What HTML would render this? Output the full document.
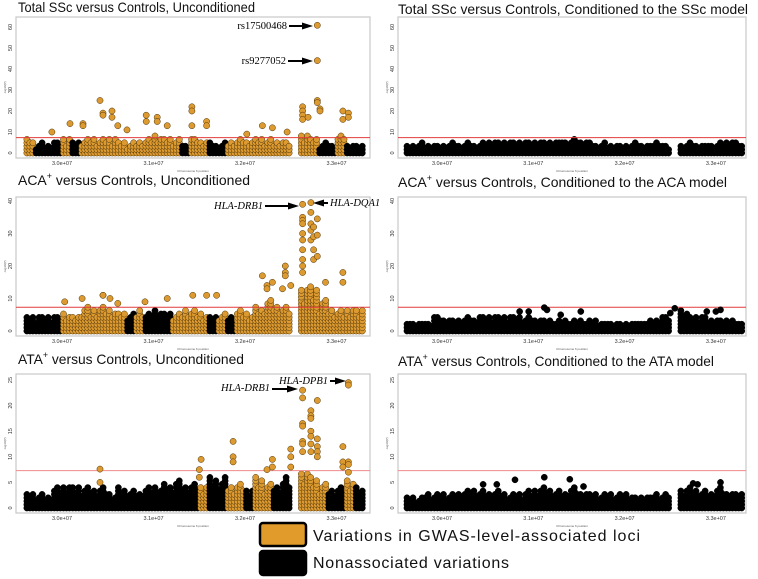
<!DOCTYPE html>
<html><head><meta charset="utf-8"><style>
html,body{margin:0;padding:0;background:#fff;}
svg{display:block;font-family:"Liberation Sans",Arial,sans-serif;}
</style></head><body>
<svg id="fig" width="758" height="579" viewBox="0 0 758 579" xmlns="http://www.w3.org/2000/svg">
<g id="layer"></g>
<g>
<rect x="260" y="523" width="46" height="23" rx="3" fill="#e09b2b" stroke="#000" stroke-width="2.5"/>
<rect x="260" y="551" width="46" height="24" rx="3" fill="#000" stroke="#000" stroke-width="2.5"/>
<text x="313" y="541" font-size="16" textLength="327" fill="#111">Variations in GWAS-level-associated loci</text>
<text x="313" y="568" font-size="16" textLength="196" fill="#111">Nonassociated variations</text>
</g>
</svg>
<script>
// bins: 37 bins of 0.1 Mb starting at 29.6 Mb. Values are -log10(P) bulk height; null = gap.
const binStart = 29.6;
const binWidth = 0.1;
const p1Heights = [7,5,4,6,8,6,7,8,7,8,6,5,6,7,9,8,7,5,8,7,5,5,6,7,6,8,7,6,6,null,10,8,5,5,9,4,4];
const p1Colors  = "obbbobooooooooooobooobbooooooonoobbobb".slice(0,0) + "obbbobooooooooooboobbooooooonoobbobb".slice(0,0) + "obbbob" + "ooooooooooo" + "b" + "oo" + "bb" + "ooooooo" + "n" + "oo" + "bb" + "o" + "bb";
const p1HitX = [29.89,30.087,30.23,30.23,30.415,30.448,30.448,30.546,30.546,30.61,30.71,30.92,30.92,31.04,31.04,31.15,31.42,31.42,31.42,31.58,31.58,32.02,32.19,32.30,32.46,32.63,32.63,32.63,32.63,32.69,32.79,32.79,32.79,32.79,32.82,32.82,33.07,33.07,33.13,33.13];
const p1HitY = [10,14,14,13,25,19,18,20,17,13,11,18,15,17,15,13,22,20,13,15,13,9,13,12,10,22,20,18,16,17,25,24,60.8,44,21,20,20,16,19,17];
const p2Heights = [5,5,5,5,6,5,8,7,8,7,6,6,7,6,7,6,6,7,7,6,5,6,5,7,6,8,10,9,8,null,15,14,10,8,7,8,7];
const p2Colors  = "bbbb" + "ooooooo" + "b" + "o" + "bbb" + "oooo" + "b" + "o" + "b" + "oooooo" + "n" + "ooooooo";
const p2HitX = [30.03,30.22,30.448,30.448,30.525,30.61,30.907,31.15,31.43,31.58,31.69,32.19,32.24,32.24,32.30,32.44,32.44,32.44,32.41,32.50,32.63,32.63,32.63,32.63,32.63,32.63,32.63,32.63,32.63,32.63,32.72,32.72,32.72,32.72,32.72,32.75,32.75,32.75,32.75,32.79,32.79,32.79,32.88,33.07,33.07];
const p2HitY = [9,10,11,11,10,8.5,9,10,11,11,11,17,14,13,15,20,18,17,13,14,39,35,34,33,30,28,25,22,20,18,39.5,36.5,33,31,28,32,29,25,22,34.5,29.5,23,15,18,15];
const p3Heights = [3,3,2.5,4,5,4.5,4,4,4,3,4,3.5,3.5,4,4.5,5,5.5,5,5,5,6,6,5,5,4,6,5,5,6,null,8,6,5,4,4,6,4];
const p3Colors  = "bbbbbbbbbbbbbbbbbbbobbooboobbnooobbob";
const p3HitX = [30.415,30.415,31.52,31.5,31.5,31.87,31.87,31.87,32.30,32.30,32.24,32.50,32.50,32.50,32.63,32.63,32.63,32.63,32.63,32.63,32.63,32.72,32.72,32.72,32.72,32.72,32.72,32.72,32.79,32.79,32.79,32.79,32.79,33.07,33.07,33.07,33.13,33.13,33.13,33.13,33.13];
const p3HitY = [7.6,5,9.5,7.5,6,13,10,9,9.5,8,7.5,11.5,10,8,23,21.5,16.5,16,13,12.5,11,19,18,17.5,15,14,12.5,11,21,13.5,12,11,10,12,9,8,24.5,24,9,8.5,7];
const r1Heights = [4,5,4,4,5,5,5,5,5,6,6,6,6,6,7,6,6,7,7,6,5,5,4,4,4,5,4,6,4,null,5,5,4,5,5,7,5];
const r2Heights = [3,3,3,5,4,4,4.5,4.5,5,5,5,5,5,4.5,4.5,4,3.5,4,3.5,3.5,3.5,3,3,2.5,2.5,3,3.5,4,5,null,7,5,5,4,4,4,3];
const r2HitX = [30.85,30.95,31.12,31.15,31.52,31.30,32.50,32.55,32.90,33.0,33.05];
const r2HitY = [6,6,7.2,6.5,6,5,5.5,7,6,6,6.5];
const r3Heights = [2.5,2,3,3,3,3,3.5,4,3.5,3.5,3.5,3,3,3.5,4,4,3.5,3.5,4,3.5,3,3,3,3,3,2.5,2.5,3,3,null,4,4,3.5,3.5,4,3.5,3];
const r3HitX = [30.6,30.45,30.8,31.12,31.4,31.55,32.75,32.8,33.05];
const r3HitY = [4.6,4.6,5.5,6,5.6,4.2,4.8,4.6,5];
const leftTicksX = ["3.0e+07","3.1e+07","3.2e+07","3.3e+07"];
const tickVals = [30,31,32,33];

const NS = "http://www.w3.org/2000/svg";
const layer = document.getElementById('layer');
function mk(tag, attrs, parent){const e=document.createElementNS(NS,tag);for(const k in attrs)e.setAttribute(k,attrs[k]);(parent||layer).appendChild(e);return e;}

const panels = [
 {id:'total-ssc-unconditioned', title:'Total SSc versus Controls, Unconditioned', sup:null, tl:237, side:'L', tb:12, top:17, bot:158, y0:153, s:2.1, ymax:60, step:10, heights:p1Heights, colors:p1Colors, hx:p1HitX, hy:p1HitY, hit:'o'},
 {id:'aca-unconditioned', title:'ACA', sup:' versus Controls, Unconditioned', tl:232, side:'L', tb:185, top:197, bot:336, y0:331, s:3.25, ymax:40, step:10, heights:p2Heights, colors:p2Colors, hx:p2HitX, hy:p2HitY, hit:'o'},
 {id:'ata-unconditioned', title:'ATA', sup:' versus Controls, Unconditioned', tl:226, side:'L', tb:364, top:374, bot:513, y0:508, s:5.12, ymax:25, step:5, heights:p3Heights, colors:p3Colors, hx:p3HitX, hy:p3HitY, hit:'o'},
 {id:'total-ssc-conditioned', title:'Total SSc versus Controls, Conditioned to the SSc model', sup:null, tl:350, side:'R', tb:14, top:17, bot:158, y0:153, s:2.1, ymax:60, step:10, heights:r1Heights, colors:null, hx:[], hy:[], hit:'b'},
 {id:'aca-conditioned', title:'ACA', sup:' versus Controls, Conditioned to the ACA model', tl:329, side:'R', tb:187, top:197, bot:336, y0:331, s:3.25, ymax:40, step:10, heights:r2Heights, colors:null, hx:r2HitX, hy:r2HitY, hit:'b'},
 {id:'ata-conditioned', title:'ATA', sup:' versus Controls, Conditioned to the ATA model', tl:316, side:'R', tb:366, top:374, bot:513, y0:508, s:5.12, ymax:25, step:5, heights:r3Heights, colors:null, hx:r3HitX, hy:r3HitY, hit:'b'}
];
// visual texture of stacked columns (styling only)
const colShape = [1,0.72,0.9,0.6,0.85];

function dot(g,x,y,c){
  const e = mk('circle',{cx:x.toFixed(1),cy:y.toFixed(1),r:3.1,fill:c==='o'?'#dc9a30':'#000',stroke:c==='o'?'#4a3208':'#000','stroke-width':0.5},g);
  
  
}

panels.forEach(p=>{
  const L = p.side==='L';
  const bx0 = L?16:398, bx1 = L?370:746;
  const xo = L?62:442, xs = L?91.5:91.3;
  const X = v => xo + (v-30)*xs;
  const Y = v => p.y0 - v*p.s;
  const g = mk('g',{});
  
  
  const t = mk('text',{x:L?18:398,y:p.tb,'font-size':14,fill:'#111',textLength:p.tl,lengthAdjust:'spacingAndGlyphs'},g);
  
  
  if(p.sup){
    t.appendChild(document.createTextNode(p.title));
    const s=document.createElementNS(NS,'tspan');s.setAttribute('font-size','9');s.setAttribute('dy','-6');s.textContent='+';t.appendChild(s);
    const r=document.createElementNS(NS,'tspan');r.setAttribute('dy','6');r.textContent=p.sup;t.appendChild(r);
  } else t.textContent=p.title;
  const fr = mk('rect',{x:bx0,y:p.top,width:bx1-bx0,height:p.bot-p.top,fill:'#fff',stroke:'#c8c8c8','stroke-width':1.2},g);
  
  
  for(let v=0; v<=p.ymax; v+=p.step){
    const tt = mk('text',{x:0,y:0,'font-size':5.5,fill:'#333','text-anchor':'middle',transform:`translate(${bx0-4},${Y(v)}) rotate(-90)`},g);
    
    
    tt.textContent=v;
  }
  const yt = mk('text',{x:0,y:0,'font-size':3,fill:'#555','text-anchor':'middle',transform:`translate(${bx0-10},${(p.top+p.bot)/2}) rotate(-90)`},g);
  
  
  yt.textContent='-log10(P)';
  tickVals.forEach((v,i)=>{
    const tt = mk('text',{x:X(v),y:p.bot+7,'font-size':5.5,fill:'#333','text-anchor':'middle'},g);
    
    
    tt.textContent=leftTicksX[i];
  });
  const xt = mk('text',{x:(bx0+bx1)/2,y:p.bot+14,'font-size':3,fill:'#555','text-anchor':'middle'},g);
  
  
  xt.textContent='Chromosome 6 position';
  const bulk = mk('g',{},g);
  
  
  let ci = 0;
  p.heights.forEach((h,i)=>{
    if(h===null) return;
    const c = p.colors ? p.colors[i] : 'b';
    const xa = X(binStart + i*binWidth), xb = X(binStart + (i+1)*binWidth);
    for(let x=xa+1.5; x<xb; x+=3){
      const top = Y(h*colShape[ci%colShape.length]);
      ci++;
      for(let y=p.y0; y>=top; y-=3.4) dot(bulk,x,y,c);
    }
  });
  const th = mk('line',{x1:bx0,x2:bx1,y1:Y(7.3),y2:Y(7.3),stroke:p.y0===508?'#f08a8a':'#e23b3b','stroke-width':1},g);
  
  
  p.hx.forEach((v,i)=>dot(g,X(v),Y(p.hy[i]),p.hit));
});

function arrow(x1,y1,x2,y2,name){
  const g = mk('g',{});
  
  
  const dx=x2-x1, dir=Math.sign(dx);
  mk('line',{x1:x1,y1:y1,x2:x2-dir*9,y2:y2,stroke:'#000','stroke-width':2},g);
  mk('polygon',{points:`${x2},${y2} ${x2-dir*11},${y2-3.5} ${x2-dir*11},${y2+3.5}`,fill:'#000'},g);
}
function label(x,y,txt,anchor,italic,name){
  const t = mk('text',{x:x,y:y,'font-size':10.5,'font-family':'"Liberation Serif",serif','text-anchor':anchor,'font-style':italic?'italic':'normal',fill:'#000'});
  
  
  t.textContent=txt;
}
label(287,29,'rs17500468','end',false,'annotation-rs17500468');
arrow(289,26,313,26,'arrow-rs17500468');
label(286,64,'rs9277052','end',false,'annotation-rs9277052');
arrow(288,61,313,61,'arrow-rs9277052');
label(263,209,'HLA-DRB1','end',true,'annotation-aca-hla-drb1');
arrow(265,206,299,206,'arrow-aca-hla-drb1');
label(330,206,'HLA-DQA1','start',true,'annotation-aca-hla-dqa1');
arrow(328,203,313,203,'arrow-aca-hla-dqa1');
label(270,391,'HLA-DRB1','end',true,'annotation-ata-hla-drb1');
arrow(272,389,298,389,'arrow-ata-hla-drb1');
label(328,384,'HLA-DPB1','end',true,'annotation-ata-hla-dpb1');
arrow(330,381,346,381,'arrow-ata-hla-dpb1');
</script>
</body></html>
